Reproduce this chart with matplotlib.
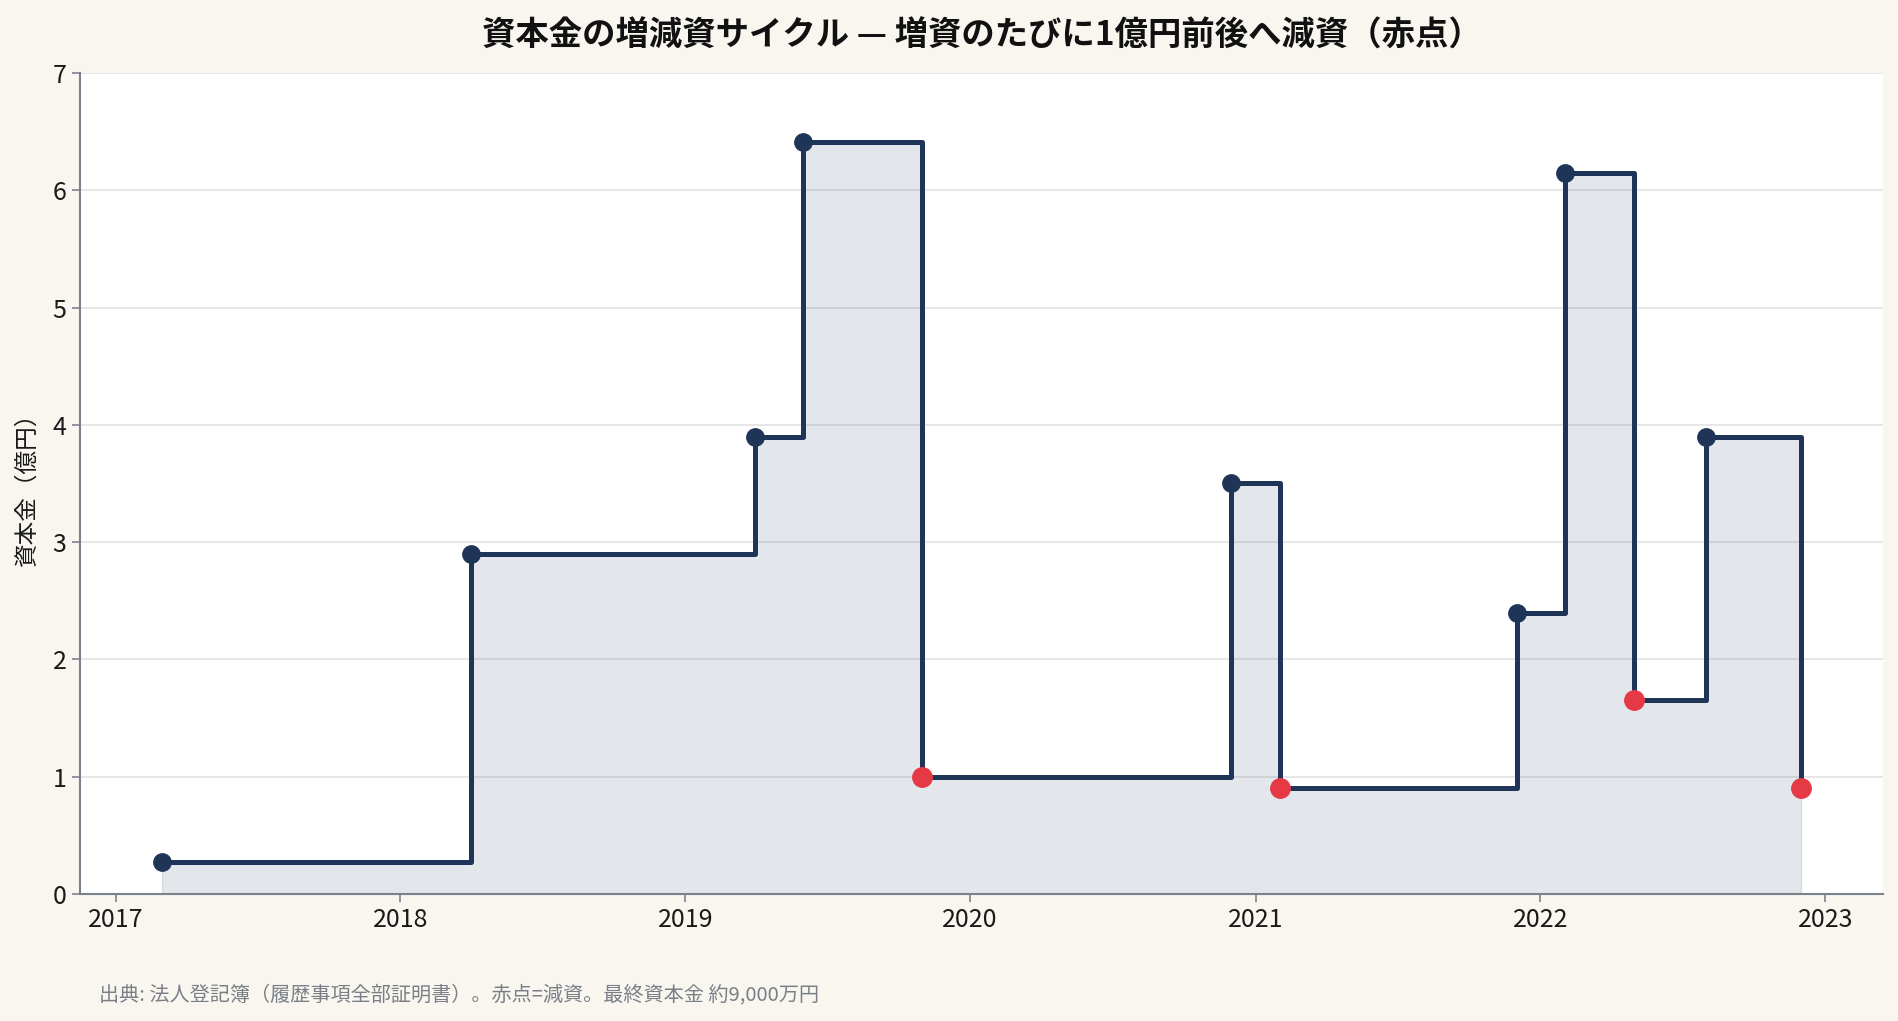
import matplotlib
matplotlib.use("Agg")
import matplotlib.pyplot as plt
import matplotlib.dates as mdates
import numpy as np
import datetime as dt

plt.rcParams['font.family'] = ['Noto Sans CJK JP', 'DejaVu Sans']

dates = ["2017-03-01", "2018-04-01", "2019-03-31", "2019-06-01", "2019-10-31",
         "2020-12-01", "2021-02-01", "2021-12-02", "2022-02-01", "2022-05-01",
         "2022-08-01", "2022-12-01"]
capital = [0.27, 2.90, 3.90, 6.41, 1.00, 3.50, 0.90, 2.40, 6.15, 1.65, 3.90, 0.90]
is_reduction = [False, False, False, False, True, False, True, False, False, True, False, True]

title = "資本金の増減資サイクル — 増資のたびに1億円前後へ減資（赤点）"
ylabel = "資本金（億円）"
footnote = "出典: 法人登記簿（履歴事項全部証明書）。赤点=減資。最終資本金 約9,000万円"

navy = "#1e3557"
red = "#e63946"
bg = "#f8f6ef"

x = np.array([dt.datetime.strptime(d, "%Y-%m-%d") for d in dates])
y = np.array(capital)
red_mask = np.array(is_reduction)

fig = plt.figure(figsize=(18.99, 10.21), dpi=100, facecolor=bg)
ax = fig.add_axes([0.042, 0.1244, 0.9496, 0.8041])
ax.set_facecolor("white")

ax.fill_between(x, y, 0, step="post", color=navy, alpha=0.12, linewidth=1)
ax.plot(x, y, drawstyle="steps-post", color=navy, linewidth=3.6, zorder=3)
ax.plot(x[~red_mask], y[~red_mask], "o", color=navy, markersize=12.5, zorder=4)
ax.plot(x[red_mask], y[red_mask], "o", color=red, markersize=14, zorder=5)

ax.set_ylim(0, 7)
ax.margins(x=0.05)
ax.xaxis.set_major_locator(mdates.YearLocator())
ax.xaxis.set_major_formatter(mdates.DateFormatter("%Y"))
ax.yaxis.grid(True, color="#e3e3e3", linewidth=1.2)
ax.set_axisbelow(True)

for s in ["top", "right"]:
    ax.spines[s].set_visible(False)
for s in ["left", "bottom"]:
    ax.spines[s].set_color("#7a828c")
    ax.spines[s].set_linewidth(1.5)

ax.tick_params(axis="both", labelsize=18, colors="#7a828c", labelcolor="#1a1a1a",
               length=6, width=1.2)
ax.set_ylabel(ylabel, fontsize=17, color="#1a1a1a", labelpad=10)
ax.set_title(title, fontsize=24, fontweight="bold", color="#111111", pad=20)

fig.text(0.052, 0.026, footnote, fontsize=14.5, color="#7a7f87", va="center", ha="left")

fig.savefig("out.png", dpi=100, facecolor=bg)
